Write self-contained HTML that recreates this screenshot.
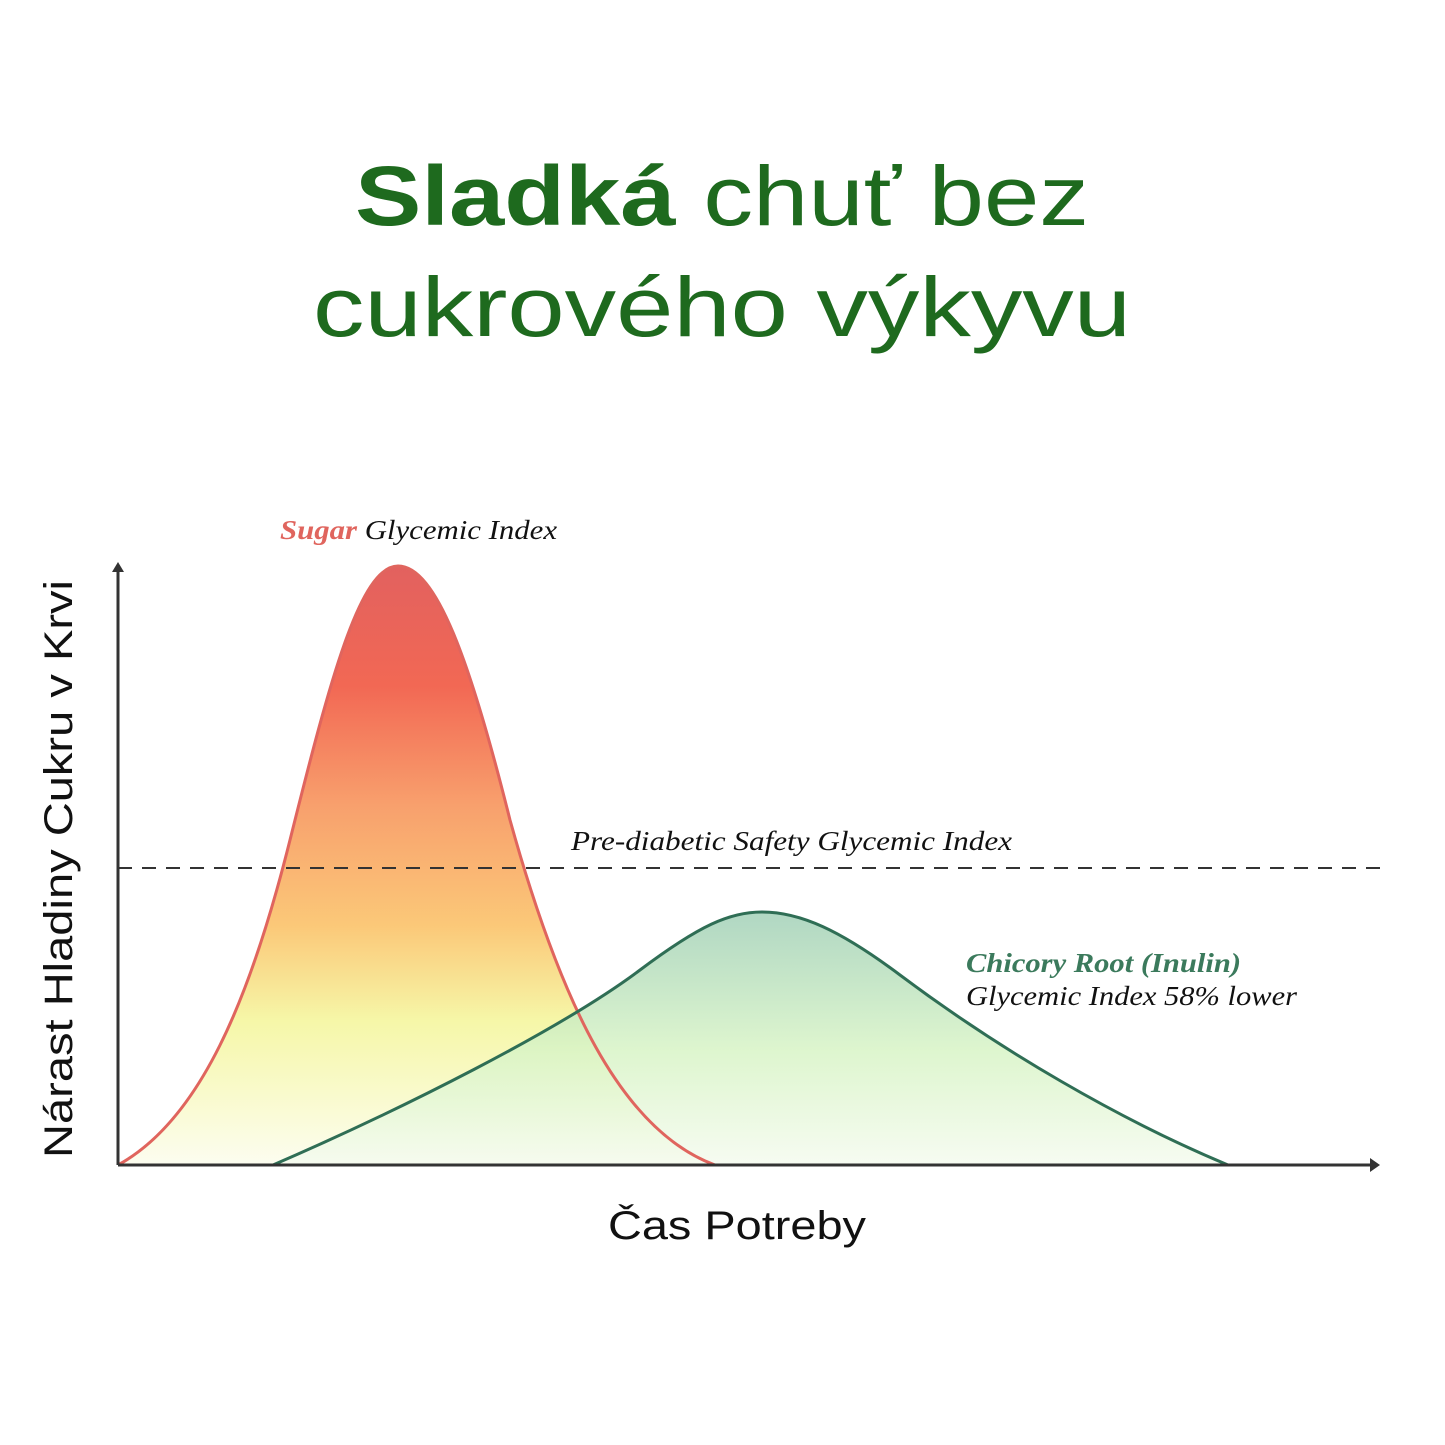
<!DOCTYPE html>
<html><head><meta charset="utf-8"><style>html,body{margin:0;padding:0;background:#fff}svg{display:block}</style></head>
<body>
<svg width="1445" height="1445" viewBox="0 0 1445 1445" xmlns="http://www.w3.org/2000/svg">
<defs>
<linearGradient id="gs" x1="0" y1="566" x2="0" y2="1165" gradientUnits="userSpaceOnUse">
<stop offset="0" stop-color="#e2615f"/>
<stop offset="0.2" stop-color="#f26854"/>
<stop offset="0.4" stop-color="#f8a06d"/>
<stop offset="0.6" stop-color="#fbc878"/>
<stop offset="0.76" stop-color="#f6f7a8"/>
<stop offset="1" stop-color="#fcfdf0"/>
</linearGradient>
<linearGradient id="gg" x1="0" y1="912" x2="0" y2="1165" gradientUnits="userSpaceOnUse">
<stop offset="0" stop-color="#a2d0b8"/>
<stop offset="0.55" stop-color="#d8f4c6"/>
<stop offset="1" stop-color="#f5fbef"/>
</linearGradient>
</defs>
<text x="722" y="225" text-anchor="middle" font-family="Liberation Sans, sans-serif" font-size="84" fill="#1e6a1e" textLength="734" lengthAdjust="spacingAndGlyphs"><tspan font-weight="bold">Sladká</tspan> chuť bez</text>
<text x="722" y="336" text-anchor="middle" font-family="Liberation Sans, sans-serif" font-size="84" fill="#1e6a1e" textLength="818" lengthAdjust="spacingAndGlyphs">cukrového výkyvu</text>

<path d="M118 1165 C200 1120 250 1000 290 840 C330 680 360 566 398 566 C436 566 470 660 510 820 C560 1000 620 1130 715 1165 Z" fill="url(#gs)"/>
<path d="M273 1165 C400 1110 560 1030 640 970 C700 925 730 912 762 912 C800 912 840 930 900 975 C1000 1050 1120 1120 1228 1165 Z" fill="url(#gg)" fill-opacity="0.85"/>
<path d="M118 1165 C200 1120 250 1000 290 840 C330 680 360 566 398 566 C436 566 470 660 510 820 C560 1000 620 1130 715 1165" fill="none" stroke="#e0655e" stroke-width="3"/>
<path d="M273 1165 C400 1110 560 1030 640 970 C700 925 730 912 762 912 C800 912 840 930 900 975 C1000 1050 1120 1120 1228 1165" fill="none" stroke="#2f6e55" stroke-width="3"/>

<line x1="118" y1="868" x2="1380" y2="868" stroke="#333" stroke-width="2" stroke-dasharray="14 10"/>
<line x1="118" y1="1165" x2="118" y2="570" stroke="#333" stroke-width="3"/>
<polygon points="112,572 124,572 118,562" fill="#333"/>
<line x1="118" y1="1165" x2="1372" y2="1165" stroke="#333" stroke-width="3"/>
<polygon points="1370,1158 1370,1172 1380,1165" fill="#333"/>

<g font-family="Liberation Serif, serif" font-style="italic" font-size="27">
<text x="280" y="539" textLength="277" lengthAdjust="spacingAndGlyphs"><tspan fill="#e0655e" font-weight="bold">Sugar</tspan> <tspan fill="#111">Glycemic Index</tspan></text>
<text x="571" y="850" fill="#111" textLength="441" lengthAdjust="spacingAndGlyphs">Pre-diabetic Safety Glycemic Index</text>
<text x="966" y="972" fill="#3b7a5c" font-weight="bold" textLength="275" lengthAdjust="spacingAndGlyphs">Chicory Root (Inulin)</text>
<text x="966" y="1005" fill="#111" textLength="331" lengthAdjust="spacingAndGlyphs">Glycemic Index 58% lower</text>
</g>
<text x="737" y="1239" text-anchor="middle" font-family="Liberation Sans, sans-serif" font-size="40" fill="#111" textLength="258" lengthAdjust="spacingAndGlyphs">Čas Potreby</text>
<text transform="translate(72,869) rotate(-90)" text-anchor="middle" font-family="Liberation Sans, sans-serif" font-size="40" fill="#111" textLength="578" lengthAdjust="spacingAndGlyphs">Nárast Hladiny Cukru v Krvi</text>
</svg>
</body></html>
